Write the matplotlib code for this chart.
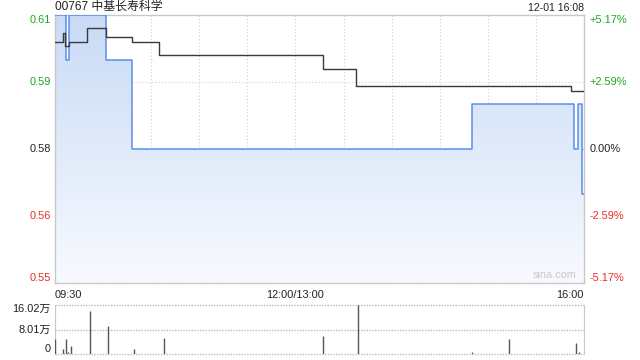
import numpy as np
import matplotlib
matplotlib.use("Agg")
import matplotlib.pyplot as plt
from matplotlib.colors import LinearSegmentedColormap
from matplotlib.patches import PathPatch
import matplotlib.transforms as mtransforms

plt.rcParams['font.family'] = ['Liberation Sans', 'Noto Sans CJK SC', 'DejaVu Sans']

# price change points (minutes since 09:30, lunch removed) and prices
price_min = [0, 7, 9, 32, 48, 260, 324, 326, 329, 330]
price = [0.61, 0.60, 0.61, 0.60, 0.58, 0.59, 0.58, 0.59, 0.57, 0.57]

# average price change points
avg_min = [0, 5, 6, 9, 20, 32, 48, 65, 167, 188, 322, 330]
avg = [0.604, 0.606, 0.603, 0.604, 0.607, 0.605, 0.604, 0.601, 0.598, 0.594, 0.593, 0.593]

# volume (in 万)
vol_min = [0, 5, 7, 8, 10, 22, 33, 49, 68, 167, 189, 260, 283, 325, 327]
vol = [4.9, 1.6, 4.9, 0.7, 2.6, 14.0, 9.2, 1.6, 5.2, 5.9, 16.02, 0.7, 4.9, 3.7, 0.7]

prev_close = 0.58
y_ticks = [0.55, 0.565, 0.58, 0.595, 0.61]
y_labels = ['0.55', '0.56', '0.58', '0.59', '0.61']
pct_labels = ['-5.17%', '-2.59%', '0.00%', '+2.59%', '+5.17%']
vol_ticks = [0, 8.01, 16.02]
vol_labels = ['0', '8.01万', '16.02万']

GREEN = '#1ea51e'
RED = '#ee2a22'
DARK = '#222222'
tick_colors = [RED, RED, DARK, GREEN, GREEN]
FS = 7.9

fig = plt.figure(figsize=(6.4, 3.6), dpi=100)
ax = fig.add_axes([55/640, 77/360, 529/640, 268/360])
axv = fig.add_axes([55/640, 6/360, 529/640, 49/360])

# main chart
ax.set_xlim(0, 330)
ax.set_ylim(0.55, 0.61)
for s in ax.spines.values():
    s.set_color('#c8c8c8')
    s.set_linewidth(1)
ax.set_xticks([])
ax.set_yticks([])

for m in range(30, 330, 30):
    ax.axvline(m, color='#cfcfcf', lw=0.8, ls=(0, (1, 2)), zorder=1)
for yv in y_ticks[1:-1]:
    if yv == prev_close:
        ax.axhline(yv, color='#aaaaaa', lw=0.8, ls=(0, (3, 3)), zorder=1)
    else:
        ax.axhline(yv, color='#cfcfcf', lw=0.8, ls=(0, (1, 2)), zorder=1)

# gradient fill under price line
cmap = LinearSegmentedColormap.from_list('fill', ['#f8faff', '#c9dbf6'])
grad = np.linspace(1, 0, 256).reshape(-1, 1)
im = ax.imshow(grad, extent=[0, 330, 0.55, 0.61], aspect='auto', cmap=cmap,
               origin='upper', zorder=2)
poly = ax.fill_between(price_min, price, 0.55, step='post', facecolor='none',
                       edgecolor='none')
clip = PathPatch(poly.get_paths()[0], transform=ax.transData,
                 facecolor='none', edgecolor='none')
ax.add_patch(clip)
im.set_clip_path(clip)

ax.plot(price_min, price, drawstyle='steps-post', color='#5a8fe8', lw=1.1, zorder=4)
ax.plot(avg_min, avg, drawstyle='steps-post', color='#3a3a3a', lw=1, zorder=5)

# y labels, left and right
trans_l = mtransforms.blended_transform_factory(ax.transAxes, ax.transData)
for i, (yv, lab, pl, c) in enumerate(zip(y_ticks, y_labels, pct_labels, tick_colors)):
    va = 'center'
    if i == 0:
        va = 'bottom'
    elif i == len(y_ticks) - 1:
        va = 'top'
    ax.annotate(lab, (0, yv), xycoords=trans_l, xytext=(-3, 0),
                textcoords='offset points', ha='right', va=va, color=c, fontsize=FS)
    ax.annotate(pl, (1, yv), xycoords=trans_l, xytext=(4, 0),
                textcoords='offset points', ha='left', va=va, color=c, fontsize=FS)

# x labels
trans_x = mtransforms.blended_transform_factory(ax.transData, ax.transAxes)
ax.annotate('09:30', (0, 0), xycoords=trans_x, xytext=(0, -5),
            textcoords='offset points', ha='left', va='top', color=DARK, fontsize=FS)
ax.annotate('12:00/13:00', (150, 0), xycoords=trans_x, xytext=(0, -5),
            textcoords='offset points', ha='center', va='top', color=DARK, fontsize=FS)
ax.annotate('16:00', (330, 0), xycoords=trans_x, xytext=(0, -5),
            textcoords='offset points', ha='right', va='top', color=DARK, fontsize=FS)

ax.text(0.985, 0.012, 'sina.com', transform=ax.transAxes, ha='right', va='bottom',
        color='#c8c8c8', fontsize=7.8, zorder=6)

fig.text(55/640, 1 - 7/360, '00767 中基长寿科学', ha='left', va='center',
         color=DARK, fontsize=8.6)
fig.text(584/640, 1 - 8/360, '12-01 16:08', ha='right', va='center',
         color=DARK, fontsize=7.6)

# volume chart
axv.set_xlim(0, 330)
axv.set_ylim(0, 16.02)
axv.set_xticks([])
axv.set_yticks([])
for k in ['top', 'bottom']:
    axv.spines[k].set_visible(False)
for k in ['left', 'right']:
    axv.spines[k].set_color('#c8c8c8')
for yv in vol_ticks:
    axv.axhline(yv, color='#bbbbbb', lw=1, ls=(0, (1, 1)), zorder=1, clip_on=False)
axv.vlines(vol_min, 0, vol, color='#555555', lw=1, zorder=3)

trans_v = mtransforms.blended_transform_factory(axv.transAxes, axv.transData)
for i, (yv, lab) in enumerate(zip(vol_ticks, vol_labels)):
    va = 'center'
    off = 0
    if i == len(vol_ticks) - 1:
        va = 'top'
        off = 1
    elif i == 0:
        va = 'bottom'
    axv.annotate(lab, (0, yv), xycoords=trans_v, xytext=(-3, off),
                 textcoords='offset points', ha='right', va=va, color=DARK, fontsize=FS)

fig.savefig('out.png', dpi=100)
